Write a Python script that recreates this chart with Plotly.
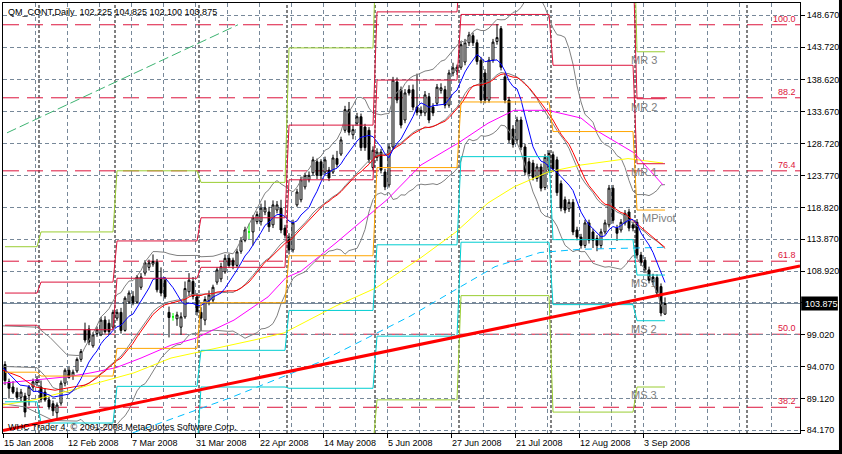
import numpy as np
import pandas as pd
import plotly.graph_objects as go

# ---------------- text ----------------
title_text = "QM_CONT,Daily\u00a0\u00a0102.225 104.825 102.100 103.875"
footer_text = "WHC Trader 4, \u00a9 2001-2008 MetaQuotes Software Corp."

date_labels = ["15 Jan 2008", "12 Feb 2008", "7 Mar 2008", "31 Mar 2008", "22 Apr 2008",
               "14 May 2008", "5 Jun 2008", "27 Jun 2008", "21 Jul 2008", "12 Aug 2008", "3 Sep 2008"]
date_label_bars = [0, 16, 32, 48, 64, 80, 96, 112, 128, 144, 160]

price_ticks = [84.17, 89.12, 94.07, 99.02, 103.97, 108.92, 113.87, 118.82,
               123.77, 128.72, 133.67, 138.62, 143.72, 148.67]
price_tick_text = ["84.170", "89.120", "94.070", "99.020", "", "108.920", "113.870", "118.820",
                   "123.770", "128.720", "133.670", "138.620", "143.720", "148.670"]

# ---------------- daily bars ----------------
opens = [94.4, 91.7, 90.9, 90.1, 89.3, 89.5, 89.6, 90.9, 91.6, 90.9,
         90.1, 88.9, 88.3, 86.9, 88.4, 91.5, 93.5, 92.6, 93.4, 95.2,
         99.8, 99.9, 97.3, 99.2, 99.0, 101.3, 100.8, 100.2, 101.6, 102.5,
         99.7, 104.1, 105.0, 104.1, 106.4, 108.6, 109.5, 110.0, 110.3, 107.8,
         107.5, 102.5, 101.8, 101.5, 100.2, 101.8, 105.7, 107.3, 104.9, 102.5,
         101.3, 104.3, 104.4, 107.2, 107.7, 108.8, 110.9, 110.6, 109.8, 112.0,
         113.7, 115.0, 115.0, 116.6, 116.6, 118.1, 118.1, 116.1, 118.4, 118.7,
         115.6, 114.2, 112.2, 119.2, 120.0, 122.0, 123.1, 124.2, 125.9, 125.9,
         124.3, 124.6, 124.3, 126.4, 127.1, 130.8, 134.0, 130.1, 131.9, 132.9,
         131.3, 130.8, 125.0, 126.6, 127.4, 124.3, 122.3, 128.2, 138.3, 137.1,
         132.4, 137.1, 137.1, 134.4, 133.9, 133.5, 136.0, 134.4, 135.0, 137.0,
         137.1, 134.7, 139.7, 140.0, 140.6, 141.4, 144.4, 145.5, 144.4, 141.7,
         139.7, 135.5, 141.7, 144.6, 146.6, 139.1, 135.5, 131.0, 129.3, 132.4,
         128.2, 125.9, 125.7, 123.3, 125.1, 121.9, 124.6, 127.0, 126.2, 122.5,
         120.0, 118.6, 119.6, 115.3, 114.2, 112.9, 116.4, 115.0, 114.0, 112.9,
         115.0, 116.1, 121.8, 115.6, 115.3, 116.4, 118.1, 116.1, 116.5, 111.4,
         110.6, 109.1, 108.0, 107.9, 106.5, 102.225]
highs = [94.9, 92.2, 91.8, 90.8, 90.6, 90.0, 91.2, 92.2, 92.6, 91.9,
         90.7, 89.4, 88.8, 88.5, 91.9, 93.8, 94.0, 93.6, 95.5, 96.8,
         100.9, 100.5, 99.4, 100.3, 101.8, 101.9, 101.4, 102.9, 103.0, 103.2,
         105.0, 105.9, 105.8, 108.3, 108.6, 110.6, 110.7, 111.5, 110.8, 109.5,
         108.0, 103.4, 102.4, 102.6, 102.5, 107.3, 108.6, 108.0, 105.5, 103.3,
         105.0, 105.9, 106.8, 109.5, 110.2, 111.5, 111.6, 111.0, 112.4, 114.2,
         115.8, 116.3, 117.6, 118.2, 119.4, 119.9, 118.9, 119.9, 119.8, 120.0,
         116.1, 114.8, 116.9, 121.7, 123.6, 124.2, 124.4, 126.7, 126.4, 126.3,
         126.7, 125.1, 127.0, 127.6, 129.8, 134.6, 135.2, 131.6, 133.5, 133.4,
         131.8, 131.3, 128.3, 128.0, 127.9, 124.8, 128.7, 139.1, 139.0, 137.6,
         137.2, 137.8, 137.9, 139.6, 134.5, 136.9, 136.6, 135.0, 138.0, 138.1,
         137.7, 140.2, 141.3, 141.0, 144.6, 145.0, 146.1, 146.0, 144.9, 142.2,
         140.3, 142.2, 145.0, 147.3, 147.0, 139.6, 136.0, 131.6, 132.9, 132.9,
         128.7, 126.5, 126.2, 125.6, 125.6, 127.1, 127.7, 127.5, 126.7, 123.0,
         120.5, 120.1, 120.1, 115.8, 114.7, 116.9, 116.9, 115.5, 114.5, 115.5,
         116.9, 122.3, 122.3, 116.1, 117.0, 118.4, 118.6, 116.6, 117.0, 111.9,
         111.1, 109.6, 108.5, 108.4, 107.0, 104.825]
lows = [91.2, 89.1, 89.8, 88.9, 88.7, 86.2, 88.0, 90.3, 91.0, 88.5,
        88.6, 87.4, 86.4, 85.8, 88.0, 91.0, 92.2, 92.0, 93.1, 94.8,
        97.8, 97.4, 97.0, 98.7, 98.8, 99.2, 99.0, 99.9, 101.2, 99.2,
        99.5, 103.8, 103.6, 103.9, 106.0, 108.2, 109.0, 109.6, 105.6, 105.0,
        104.6, 98.6, 101.2, 100.4, 99.0, 101.5, 105.0, 104.5, 102.0, 99.6,
        100.5, 103.6, 104.0, 106.8, 107.2, 108.5, 109.4, 109.2, 109.5, 111.6,
        113.4, 113.9, 112.9, 116.2, 116.0, 117.6, 115.0, 115.6, 117.9, 114.8,
        114.0, 111.5, 111.8, 118.9, 119.6, 121.6, 122.7, 123.8, 123.2, 123.1,
        123.9, 122.9, 124.0, 125.0, 126.8, 130.4, 130.0, 129.4, 131.5, 127.6,
        127.6, 125.7, 124.6, 126.0, 124.1, 121.5, 121.9, 127.8, 135.0, 131.1,
        131.9, 136.2, 133.9, 133.1, 133.0, 133.0, 131.9, 133.0, 134.6, 136.5,
        134.2, 134.3, 139.2, 139.4, 140.2, 140.9, 143.9, 143.9, 141.0, 135.0,
        135.0, 135.1, 141.3, 144.1, 140.1, 135.0, 128.8, 128.1, 128.8, 127.7,
        123.8, 123.6, 123.0, 122.8, 121.3, 121.5, 124.2, 124.3, 120.6, 118.2,
        117.9, 118.1, 114.5, 113.7, 112.4, 112.5, 113.2, 112.5, 112.0, 112.4,
        114.6, 115.7, 116.3, 113.6, 114.9, 116.0, 115.1, 115.1, 110.9, 109.7,
        108.6, 107.0, 106.7, 105.0, 101.9, 102.1]
closes = [91.9, 90.7, 90.1, 89.3, 90.1, 87.0, 90.9, 91.7, 92.1, 89.0,
          88.9, 87.8, 87.2, 88.1, 91.5, 93.5, 92.4, 93.2, 95.2, 96.4,
          98.2, 97.9, 99.0, 99.8, 101.3, 99.5, 99.5, 102.5, 102.5, 99.7,
          104.7, 105.5, 104.0, 108.0, 108.0, 110.2, 110.2, 110.4, 106.0, 105.5,
          104.9, 101.7, 101.8, 102.1, 101.8, 106.2, 107.5, 105.0, 102.6, 101.6,
          104.5, 105.2, 106.4, 109.1, 109.6, 110.9, 109.8, 109.8, 111.9, 113.7,
          115.3, 115.0, 117.2, 117.7, 118.7, 118.7, 115.8, 119.2, 119.2, 115.3,
          114.5, 112.2, 116.4, 121.2, 123.1, 123.8, 123.8, 126.2, 123.8, 123.8,
          126.2, 123.4, 126.5, 125.5, 129.3, 134.0, 130.5, 130.9, 132.9, 128.1,
          128.1, 126.2, 127.7, 127.4, 124.6, 122.0, 128.2, 138.6, 135.5, 131.6,
          136.6, 136.6, 134.4, 133.6, 133.5, 136.3, 132.4, 133.5, 137.5, 137.4,
          134.7, 139.7, 140.5, 140.6, 144.1, 144.4, 145.6, 144.4, 141.5, 135.5,
          135.5, 141.7, 144.5, 145.2, 140.6, 135.5, 129.3, 128.6, 132.4, 128.2,
          124.3, 124.1, 123.5, 125.1, 121.8, 126.6, 127.2, 124.8, 121.1, 118.7,
          118.4, 119.6, 115.0, 114.2, 112.9, 116.4, 113.7, 113.7, 112.9, 115.0,
          116.4, 121.8, 116.8, 114.8, 116.5, 117.9, 115.6, 115.6, 111.4, 110.2,
          109.1, 107.5, 107.2, 105.5, 102.4, 103.875]
last_price = 103.875

# ---------------- monthly pivots (Jan..Sep) ----------------
month_starts = [0, 9, 28, 49, 71, 93, 114, 137, 158]
separator_bars = [9, 28, 49, 71, 93, 114, 137, 158, 186]
pivot_mr3 = [112.7, 115.0, 124.5, 122.7, 143.6, 163.3, 170.0, 167.6, 143.0]
pivot_mr2 = [105.5, 107.2, 113.6, 117.2, 131.6, 149.2, 157.4, 157.4, 135.7]
pivot_mr1 = [100.5, 99.8, 107.8, 109.5, 123.1, 138.6, 148.8, 140.9, 125.6]
pivot_mp = [93.2, 92.6, 96.9, 104.0, 111.3, 125.0, 135.2, 130.6, 118.4]
pivot_ms1 = [88.6, 85.3, 91.0, 96.6, 102.8, 113.0, 126.7, 113.8, 108.3]
pivot_ms2 = [81.2, 78.7, 80.7, 90.9, 90.7, 98.8, 113.4, 103.7, 101.2]
pivot_ms3 = [76.5, 71.2, 75.3, 83.0, 81.7, 88.9, 105.1, 87.0, 90.9]

# ---------------- fibonacci ----------------
fib_low = 51.0
fib_high = 147.2
fib_ratios = [38.2, 50.0, 61.8, 76.4, 88.2, 100.0]

# ---------------- indicator lines ----------------
bb_up_early_x = [-0.5, 8, 11.25, 15.5, 18]
bb_up_early_y = [100.4, 100.2, 98.6, 95.9, 95.8]
bb_mid_early_x = [-0.5, 8, 10, 12, 16, 18]
bb_mid_early_y = [94.1, 93.9, 92.6, 90.8, 90.0, 90.6]
bb_low_early_x = [-0.5, 5, 8, 12, 18]
bb_low_early_y = [88.3, 87.8, 86.9, 85.7, 85.6]
blue_early_x = [-0.5, 3.75, 6]
blue_early_y = [93.9, 91.2, 91.0]
red_early_x = [-0.5, 3.75, 7.5, 12.5, 17]
red_early_y = [93.5, 92.5, 90.9, 90.4, 90.9]

magenta_x = [-0.5, 15.75, 21.5, 27.75, 34, 41.5, 47.75, 52.25, 57.25, 65.75, 70.25, 74,
             82.75, 95.5, 104, 113.25, 120.75, 127.25, 135.75, 144, 147.75, 157.25, 164.5]
magenta_y = [91.5, 92.5, 93.1, 93.9, 95.4, 97.4, 98.5, 99.8, 101.3, 104.9, 107.9, 108.9,
             113.3, 120.0, 125.4, 128.8, 131.9, 133.9, 133.9, 132.7, 130.8, 127.3, 122.3]
yellow_x = [-0.5, 7.25, 14.75, 24, 27.25, 32.25, 41.5, 49, 62.25, 69.75, 82.75, 92.75,
            104, 112.75, 120.75, 127.25, 135.75, 144, 155.75, 164.5]
yellow_y = [88.1, 88.9, 90.1, 91.7, 92.3, 93.1, 95.4, 96.4, 98.2, 99.3, 103.5, 106.3,
            111.0, 115.0, 119.5, 122.0, 124.3, 125.4, 126.4, 125.7]
longma_x = [26.25, 33.75, 56.25, 78.75, 101.25, 122.5, 133.75, 143.75, 164.5]
longma_y = [82.5, 84.2, 89.2, 94.8, 101.9, 109.6, 111.8, 112.3, 112.6]

red_trend_x = [-0.5, 198.75]
red_trend_y = [84.15, 109.7]
green_trend_x = [0.5, 58.25]
green_trend_y = [130.4, 147.2]

# ---------------- derived ----------------
bars = list(range(len(closes)))
c = pd.Series(closes)
sma8 = c.rolling(8).mean()
sma21 = c.rolling(21).mean()
mid20 = c.rolling(20).mean()
sd20 = c.rolling(20).std(ddof=0)
up20 = mid20 + 2 * sd20
lo20 = mid20 - 2 * sd20

def month_of(i):
    m = 0
    for k, s in enumerate(month_starts):
        if i >= s:
            m = k
    return m

def expand(levels):
    return [levels[month_of(i)] for i in bars]

FONT = "Liberation Sans, Arial, sans-serif"
GRID = "#778899"

fig = go.Figure()

# candles (regular and doji)
reg = [i for i in bars if opens[i] != closes[i]]
doj = [i for i in bars if opens[i] == closes[i]]
fig.add_trace(go.Candlestick(
    x=reg, open=[opens[i] for i in reg], high=[highs[i] for i in reg],
    low=[lows[i] for i in reg], close=[closes[i] for i in reg],
    increasing=dict(line=dict(color="black", width=1), fillcolor="white"),
    decreasing=dict(line=dict(color="black", width=1), fillcolor="black"),
    whiskerwidth=0, showlegend=False, hoverinfo="skip"))
fig.add_trace(go.Candlestick(
    x=doj, open=[opens[i] for i in doj], high=[highs[i] for i in doj],
    low=[lows[i] for i in doj], close=[closes[i] for i in doj],
    increasing=dict(line=dict(color="#00FF00", width=1), fillcolor="#00FF00"),
    decreasing=dict(line=dict(color="#00FF00", width=1), fillcolor="#00FF00"),
    whiskerwidth=0, showlegend=False, hoverinfo="skip"))

def line(x, y, color, width=1, dash="solid"):
    fig.add_trace(go.Scatter(x=list(x), y=list(y), mode="lines",
                             line=dict(color=color, width=width, dash=dash),
                             showlegend=False, hoverinfo="skip"))

# Bollinger bands (gray)
line(bb_up_early_x + bars[19:], bb_up_early_y + list(up20[19:]), "#808080")
line(bb_mid_early_x + bars[19:], bb_mid_early_y + list(mid20[19:]), "#808080")
line(bb_low_early_x + bars[19:], bb_low_early_y + list(lo20[19:]), "#808080")
# long moving averages
line(yellow_x, yellow_y, "#FFFF00")
line(magenta_x, magenta_y, "#FF00FF")
line(longma_x, longma_y, "#00BFFF", dash="7px,5px")
# fast / medium moving averages
line(red_early_x + bars[20:], red_early_y + list(sma21[20:]), "#FF0000")
line(blue_early_x + bars[7:], blue_early_y + list(sma8[7:]), "#0000FF")

# pivots
line(bars, expand(pivot_mr3), "#9ACD32")
line(bars, expand(pivot_ms3), "#9ACD32")
line(bars, expand(pivot_mr2), "#DC143C")
line(bars, expand(pivot_mr1), "#DC143C")
line(bars, expand(pivot_mp), "#FFA500")
line(bars, expand(pivot_ms1), "#00CED1")
line(bars, expand(pivot_ms2), "#00CED1")

# trend lines
line(green_trend_x, green_trend_y, "#3CB371", dash="10px,4px")
line(red_trend_x, red_trend_y, "#FF0000", width=3)

shapes = []
# month separators
for s in separator_bars:
    shapes.append(dict(type="line", xref="x", yref="paper", x0=s - 0.5, x1=s - 0.5, y0=0, y1=1,
                       line=dict(color="black", width=1, dash="3px,2px"), layer="below"))
# fibonacci levels
fib_levels = [fib_low + r / 100.0 * (fib_high - fib_low) for r in fib_ratios]
for lv in fib_levels:
    shapes.append(dict(type="line", xref="paper", yref="y", x0=0, x1=1, y0=lv, y1=lv,
                       line=dict(color="#DC143C", width=1, dash="16px,8px"), layer="below"))
# bid line
shapes.append(dict(type="line", xref="paper", yref="y", x0=0, x1=1, y0=last_price, y1=last_price,
                   line=dict(color="#778899", width=1), layer="below"))
# price box
shapes.append(dict(type="rect", xref="paper", yref="y", x0=1.0015, x1=1.0475,
                   y0=last_price - 1.1, y1=last_price + 1.1, fillcolor="black",
                   line=dict(width=0)))
# window border (bottom / right)
shapes.append(dict(type="rect", xref="paper", yref="paper", x0=-0.01, x1=1.06,
                   y0=-0.0488, y1=-0.0395, fillcolor="black", line=dict(width=0)))
shapes.append(dict(type="rect", xref="paper", yref="paper", x0=1.0489, x1=1.06,
                   y0=-0.06, y1=1.01, fillcolor="black", line=dict(width=0)))

ann = []
ann.append(dict(text=title_text, xref="paper", yref="paper", x=0, y=1, xanchor="left",
                yanchor="top", xshift=3, yshift=-2, showarrow=False,
                font=dict(family=FONT, size=9, color="black")))
ann.append(dict(text=footer_text, xref="paper", yref="paper", x=0, y=0, xanchor="left",
                yanchor="bottom", xshift=3, yshift=-1, showarrow=False,
                font=dict(family=FONT, size=9, color="black")))
for b, t in zip(date_label_bars, date_labels):
    ann.append(dict(text=t, xref="x", yref="paper", x=b - 0.5, y=0, xanchor="left",
                    yanchor="top", xshift=-1, yshift=-3, showarrow=False,
                    font=dict(family=FONT, size=9, color="black")))
for r, lv in zip(fib_ratios, fib_levels):
    ann.append(dict(text="%.1f" % r, xref="paper", yref="y", x=1, y=lv, xanchor="right",
                    yanchor="bottom", xshift=-2, yshift=-1, showarrow=False,
                    font=dict(family=FONT, size=9, color="#DC143C")))
piv_labels = [("MR 3", pivot_mr3[-1], 156.5), ("MR 2", pivot_mr2[-1], 156.5),
              ("MR 1", pivot_mr1[-1], 156.5), ("MPivot", pivot_mp[-1], 159.25),
              ("MS 1", pivot_ms1[-1], 156.5), ("MS 2", pivot_ms2[-1], 156.5),
              ("MS 3", pivot_ms3[-1], 156.5)]
for t, lv, bx in piv_labels:
    ann.append(dict(text=t, xref="x", yref="y", x=bx, y=lv, xanchor="left", yanchor="top",
                    xshift=-2, yshift=0, showarrow=False,
                    font=dict(family=FONT, size=11, color="#808080")))
ann.append(dict(text="%.3f" % last_price, xref="paper", yref="y", x=1, y=last_price,
                xanchor="left", yanchor="middle", xshift=3, showarrow=False,
                font=dict(family=FONT, size=9, color="white")))

fig.update_layout(
    width=842, height=454,
    margin=dict(l=3, r=42, t=3, b=21, pad=0),
    paper_bgcolor="white", plot_bgcolor="white",
    showlegend=False, hovermode=False,
    shapes=shapes, annotations=ann,
    xaxis=dict(range=[-0.5, 198.75], tickmode="array",
               tickvals=[b - 0.5 for b in date_label_bars], showticklabels=False,
               ticks="outside", ticklen=4, tickcolor="black",
               showgrid=True, gridcolor=GRID, griddash="4px,3px", gridwidth=1,
               minor=dict(tickmode="linear", tick0=-0.5, dtick=8, showgrid=True,
                          gridcolor=GRID, griddash="4px,3px", ticks=""),
               showline=True, linecolor="black", linewidth=1, mirror=True,
               zeroline=False, rangeslider=dict(visible=False), fixedrange=True),
    yaxis=dict(range=[83.75, 150.58], side="right", tickmode="array",
               tickvals=price_ticks, ticktext=price_tick_text,
               ticks="outside", ticklen=4, tickcolor="black",
               tickfont=dict(family=FONT, size=9, color="black"),
               showgrid=True, gridcolor=GRID, griddash="4px,3px", gridwidth=1,
               showline=True, linecolor="black", linewidth=1, mirror=True,
               zeroline=False, fixedrange=True),
)

fig.write_html("out.html", config={"displayModeBar": False},
               post_script="document.body.style.margin='0';document.body.style.overflow='hidden';")
